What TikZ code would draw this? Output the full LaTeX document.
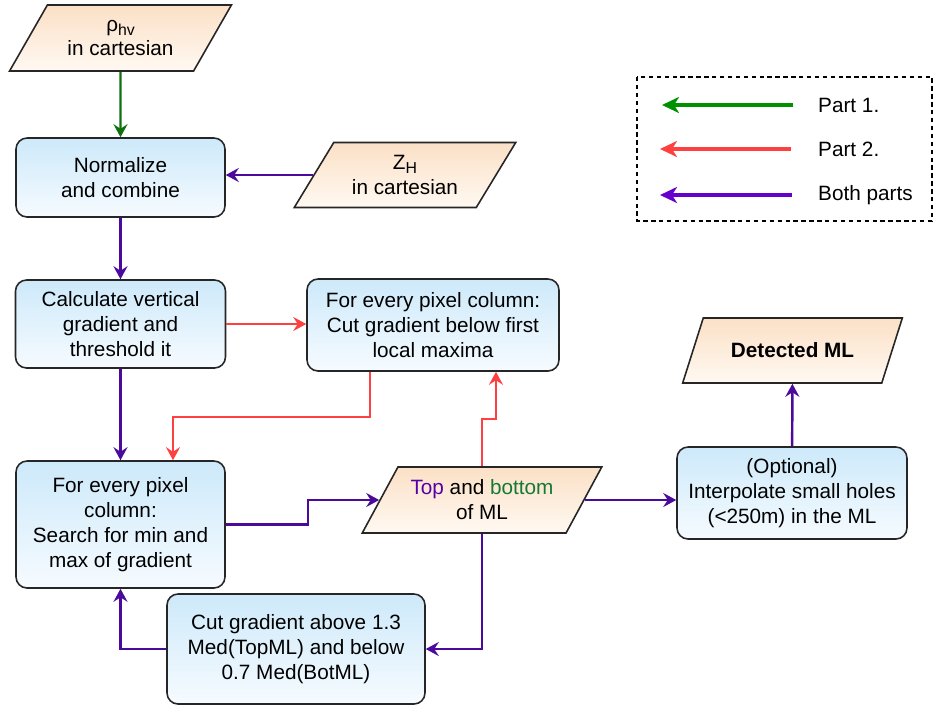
\documentclass[tikz,border=0pt]{standalone}
\usepackage{fontspec}
\setmainfont{Liberation Sans}
\usepackage{tikz}
\usetikzlibrary{positioning,shapes.geometric,arrows.meta}
\usepackage{xcolor}

\definecolor{boxtop}{RGB}{205,233,250}
\definecolor{boxbot}{RGB}{246,251,255}
\definecolor{datatop}{RGB}{251,224,198}
\definecolor{databot}{RGB}{255,249,242}
\definecolor{partone}{RGB}{16,112,16}
\definecolor{parttwo}{RGB}{255,64,64}
\definecolor{bothpart}{RGB}{75,10,155}
\definecolor{legone}{RGB}{0,145,0}
\definecolor{legboth}{RGB}{102,0,204}
\definecolor{toptext}{RGB}{85,0,170}
\definecolor{bottext}{RGB}{20,120,55}

\newcommand{\lowsub}[1]{\raisebox{-0.4ex}{\fontsize{9pt}{9pt}\selectfont #1}}

\begin{document}
\begin{tikzpicture}[x=0.02cm, y=-0.02cm,
        every node/.style={font=\fontsize{11.8pt}{14.2pt}\selectfont, align=center},
        process/.style={rectangle, rounded corners=0.22cm, draw=black!85, line width=0.9pt,
            top color=boxtop, bottom color=boxbot, inner sep=2pt},
        data/.style={trapezium, trapezium left angle=56, trapezium right angle=124,
            trapezium stretches=true, draw=black!85, line width=0.9pt,
            top color=datatop, bottom color=databot, inner sep=2pt},
        flow/.style={line width=1.4pt, -{Stealth[length=2.6mm, width=2.8mm, inset=0.9mm]}},
        legarrow/.style={line width=2.8pt, -{Stealth[length=3.4mm, width=3.2mm, inset=1mm]}}]
        \useasboundingbox (0,0) rectangle (940,708);

        % Inputs
        \node[data, minimum width=4.46cm, minimum height=1.32cm] (rho) at (120.5,38) {ρ\lowsub{hv}\\in cartesian};
        \node[data, minimum width=4.48cm, minimum height=1.3cm] (zh) at (405,175) {Z\lowsub{H}\\in cartesian};

        % Left column
        \node[process, minimum width=4.18cm, minimum height=1.58cm] (norm) at (120.5,177.5) {Normalize\\and combine};
        \node[process, minimum width=4.2cm, minimum height=1.76cm] (calc) at (120.5,324) {Calculate vertical\\gradient and\\threshold it};
        \node[process, minimum width=4.18cm, minimum height=2.54cm] (search) at (120.5,524.5) {For every pixel\\column:\\Search for min and\\max of gradient};
        \node[process, minimum width=5.16cm, minimum height=2.2cm] (cutbox) at (296,649) {Cut gradient above 1.3\\Med(TopML) and below\\0.7 Med(BotML)};

        % Middle and right
        \node[process, minimum width=5.04cm, minimum height=1.84cm] (cutfirst) at (433,325) {For every pixel column:\\Cut gradient below first\\local maxima};
        \node[data, minimum width=4.8cm, minimum height=1.32cm] (tb) at (482,500) {\textcolor{toptext}{Top} and \textcolor{bottext}{bottom}\\of ML};
        \node[process, minimum width=4.6cm, minimum height=1.84cm] (interp) at (792,493) {(Optional)\\Interpolate small holes\\(<250m) in the ML};
        \node[data, minimum width=4.42cm, minimum height=1.3cm] (detected) at (792.5,350.5) {\textbf{Detected ML}};

        % Part 1
        \draw[flow, partone] (rho) -- (norm);

        % Part 2
        \draw[flow, parttwo] (calc.east) -- (calc.east -| cutfirst.west);
        \draw[flow, parttwo] ([xshift=-1.26cm]cutfirst.south) -- ++(0,45) -| ([xshift=1.05cm]search.north);
        \draw[flow, parttwo] (tb.north) -- ++(0,-47) -| ([xshift=1.26cm]cutfirst.south);

        % Both parts
        \draw[flow, bothpart] (zh.west) -- (zh.west -| norm.east);
        \draw[flow, bothpart] (norm) -- (calc);
        \draw[flow, bothpart] (calc) -- (search);
        \draw[flow, bothpart] (search.east) -- ++(82,0) |- (tb.west);
        \draw[flow, bothpart] (tb.east) -- (tb.east -| interp.west);
        \draw[flow, bothpart] (interp) -- (detected);
        \draw[flow, bothpart] (tb.south) |- (cutbox.east);
        \draw[flow, bothpart] (cutbox.west) -| (search.south);

        % Legend
        \draw[line width=0.8pt, dash pattern=on 2.5pt off 2pt] (637,77) rectangle (932,221);
        \coordinate (l1a) at (793,105); \coordinate (l1b) at (662,105);
        \coordinate (l2a) at (791,149); \coordinate (l2b) at (660,149);
        \coordinate (l3a) at (792,195); \coordinate (l3b) at (660,195);
        \draw[legarrow, legone] (l1a) -- (l1b);
        \draw[legarrow, parttwo] (l2a) -- (l2b);
        \draw[legarrow, legboth] (l3a) -- (l3b);
        \node[anchor=west] (p1) at (812,105) {Part 1.};
        \node[anchor=west] (p2) at (812,149) {Part 2.};
        \node[anchor=west] (p3) at (812,195) {Both parts};
\end{tikzpicture}
\end{document}
